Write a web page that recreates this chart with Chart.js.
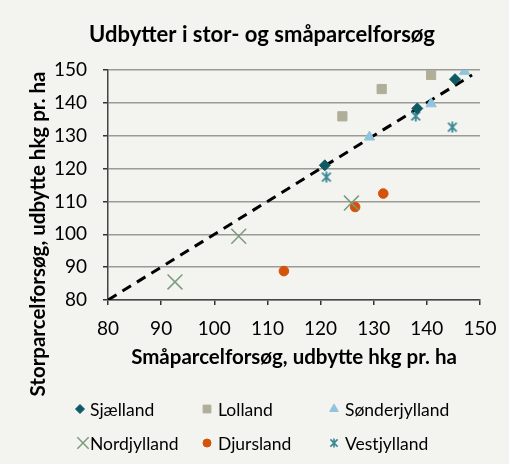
<!DOCTYPE html>
<html>
<head>
<meta charset="utf-8">
<script src="https://cdn.jsdelivr.net/npm/chart.js@4/dist/chart.umd.min.js"></script>
<style>
  html, body { margin: 0; padding: 0; background: #f3f3ef; }
  #wrap { width: 509px; height: 464px; }
</style>
</head>
<body>
<div id="wrap"><canvas id="yieldChart" width="509" height="464"></canvas></div>
<script>
// Udbytter - stor- vs. småparcelforsøg

const chartTitle = 'Udbytter i stor- og småparcelforsøg';
const xTitle = 'Småparcelforsøg, udbytte hkg pr. ha';
const yTitle = 'Storparcelforsøg, udbytte hkg pr. ha';

const regions = ['Sjælland', 'Lolland', 'Sønderjylland', 'Nordjylland', 'Djursland', 'Vestjylland'];

// småparcel (x) og storparcel (y) pr. region
const sjaellandX = [120.8, 138.2, 145.3];
const sjaellandY = [121.0, 138.3, 147.2];
const lollandX = [124.1, 131.5, 140.8];
const lollandY = [135.9, 144.2, 148.5];
const sonderX = [129.2, 140.8, 147.1];
const sonderY = [129.6, 139.7, 149.6];
const nordX = [92.6, 104.6, 125.8];
const nordY = [85.5, 99.4, 109.5];
const djursX = [113.1, 126.5, 131.8];
const djursY = [88.8, 108.3, 112.4];
const vestX = [121.1, 137.9, 144.8];
const vestY = [117.4, 136.0, 132.6];

// 1:1 linje
const lineX = [80, 148.5];
const lineY = [80, 148.5];

const xTicks = [80, 90, 100, 110, 120, 130, 140, 150];
const yTicks = [80, 90, 100, 110, 120, 130, 140, 150];

const FONT = 'Lato, "Open Sans", sans-serif';

function toPoints(xs, ys) {
    return xs.map((x, i) => ({ x: x, y: ys[i] }));
}

// Excel-like star marker: X with a vertical bar
function makeStar(color, size, lw) {
    const c = document.createElement('canvas');
    c.width = size; c.height = size;
    const g = c.getContext('2d');
    g.strokeStyle = color;
    g.lineWidth = lw;
    const m = size / 2, a = size * 0.36;
    g.beginPath();
    g.moveTo(m - a, m - a); g.lineTo(m + a, m + a);
    g.moveTo(m + a, m - a); g.lineTo(m - a, m + a);
    g.moveTo(m, 0.5); g.lineTo(m, size - 0.5);
    g.stroke();
    return c;
}

const starBig = makeStar('#3a8795', 12, 1.8);
const starSmall = makeStar('#3a8795', 10, 1.6);

const styles = [
    { color: '#0e5a63', point: 'rectRot', radius: 5.5, legendRadius: 4.5, border: 1 },
    { color: '#b0ae98', point: 'rect', radius: 6.5, legendRadius: 5.5, border: 1 },
    { color: '#8fc4dc', point: 'triangle', radius: 6, legendRadius: 5, border: 1 },
    { color: '#7c9a7c', point: 'crossRot', radius: 10.5, legendRadius: 8, border: 1.5 },
    { color: '#d4520a', point: 'circle', radius: 4.8, legendRadius: 4, border: 1 },
    { color: '#3a8795', point: starBig, radius: 6, legendRadius: 5, border: 1, legendPoint: starSmall }
];

const seriesPoints = [
    toPoints(sjaellandX, sjaellandY),
    toPoints(lollandX, lollandY),
    toPoints(sonderX, sonderY),
    toPoints(nordX, nordY),
    toPoints(djursX, djursY),
    toPoints(vestX, vestY)
];

const datasets = regions.map((name, i) => ({
    label: name,
    data: seriesPoints[i],
    pointStyle: styles[i].point,
    pointRadius: styles[i].radius,
    pointHoverRadius: styles[i].radius,
    pointBackgroundColor: styles[i].color,
    pointBorderColor: styles[i].color,
    pointBorderWidth: styles[i].border,
    showLine: false
}));

datasets.push({
    label: '1:1',
    data: toPoints(lineX, lineY),
    showLine: true,
    borderColor: '#000000',
    borderWidth: 3,
    borderDash: [10, 7],
    pointRadius: 0,
    pointHoverRadius: 0,
    order: 10
});

// titles, axis titles and legend, laid out like the Excel original
const decorPlugin = {
    id: 'decor',
    beforeDraw(chart) {
        const ctx = chart.ctx;
        ctx.save();
        ctx.fillStyle = '#f3f3ef';
        ctx.fillRect(0, 0, chart.width, chart.height);
        ctx.restore();
    },
    afterDraw(chart) {
        const ctx = chart.ctx;
        ctx.save();
        ctx.fillStyle = '#000';
        ctx.textAlign = 'center';
        ctx.textBaseline = 'middle';
        ctx.font = 'bold 22px ' + FONT;
        ctx.fillText(chartTitle, 262, 35);
        ctx.font = 'bold 20.5px ' + FONT;
        ctx.fillText(xTitle, 294, 357);
        ctx.save();
        ctx.translate(38, 234);
        ctx.rotate(-Math.PI / 2);
        ctx.fillText(yTitle, 0, 0);
        ctx.restore();

        // legend: 3 columns x 2 rows
        const markX = [80, 207, 334];
        const textX = [90, 218, 345];
        const rowY = [409, 443];
        ctx.font = '17.5px ' + FONT;
        ctx.textAlign = 'left';
        regions.forEach((name, i) => {
            const col = i % 3, row = Math.floor(i / 3);
            const s = styles[i];
            ctx.fillStyle = s.color;
            ctx.strokeStyle = s.color;
            ctx.lineWidth = s.border;
            Chart.helpers.drawPoint(ctx, {
                pointStyle: s.legendPoint || s.point,
                radius: s.legendRadius,
                rotation: 0,
                borderWidth: s.border
            }, markX[col] + (i === 3 ? 3 : 0), rowY[row]);
            ctx.fillStyle = '#000';
            ctx.fillText(name, textX[col], rowY[row] + 1);
        });
        ctx.restore();
    }
};

const ctx = document.getElementById('yieldChart');
new Chart(ctx.getContext('2d'), {
    type: 'scatter',
    data: { datasets: datasets },
    options: {
        responsive: false,
        animation: false,
        layout: { padding: { left: 0, right: 29, top: 70, bottom: 0 } },
        plugins: {
            legend: { display: false },
            title: { display: false },
            tooltip: { enabled: false }
        },
        scales: {
            x: {
                type: 'linear',
                min: 80,
                max: 150,
                afterBuildTicks: (scale) => { scale.ticks = xTicks.map(v => ({ value: v })); },
                afterFit: (scale) => { scale.height = 164; },
                border: { color: '#444', width: 1.5 },
                grid: {
                    drawOnChartArea: false,
                    drawTicks: true,
                    tickLength: 5,
                    tickColor: '#333',
                    lineWidth: 1.5
                },
                ticks: {
                    padding: 12,
                    color: '#000',
                    font: { family: FONT, size: 19 }
                }
            },
            y: {
                type: 'linear',
                min: 80,
                max: 150,
                afterBuildTicks: (scale) => { scale.ticks = yTicks.map(v => ({ value: v })); },
                afterFit: (scale) => { scale.width = 108; },
                border: { color: '#444', width: 1.5 },
                grid: {
                    color: '#9a9a96',
                    lineWidth: 1.5,
                    drawTicks: true,
                    tickLength: 5,
                    tickColor: '#333'
                },
                ticks: {
                    padding: 16,
                    color: '#000',
                    font: { family: FONT, size: 19 }
                }
            }
        }
    },
    plugins: [decorPlugin]
});
</script>
</body>
</html>
